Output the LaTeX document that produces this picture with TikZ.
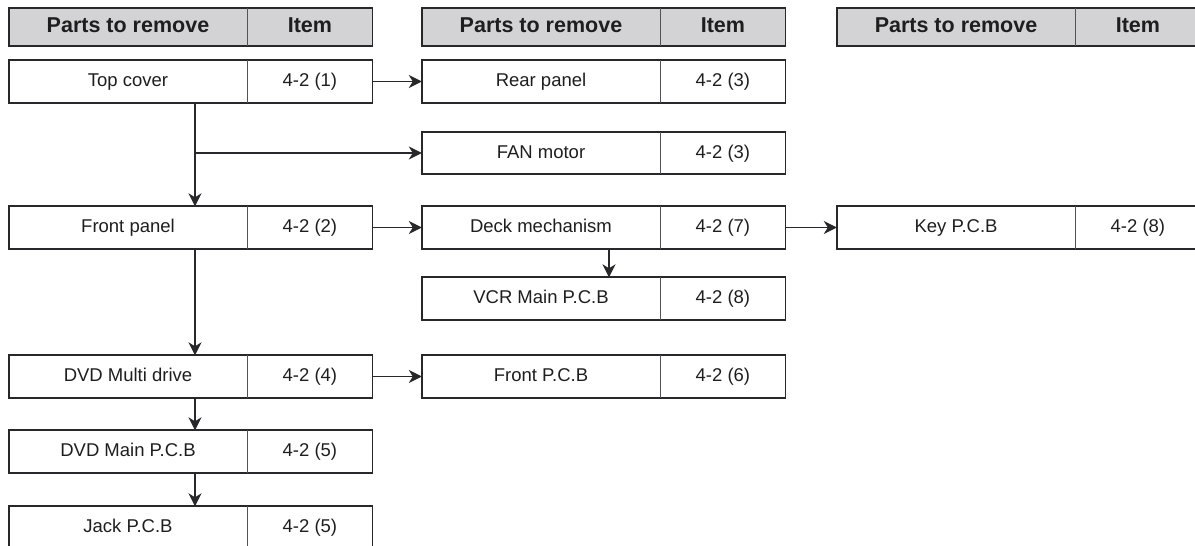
\documentclass[tikz,border=0pt]{standalone}
\usepackage{fontspec}
\setmainfont{Liberation Sans}
\usepackage{tikz}
\usetikzlibrary{positioning, calc, arrows.meta}
\definecolor{Linea}{RGB}{40,40,42}
\definecolor{Cabecera}{RGB}{211,211,214}
\definecolor{Texto}{RGB}{30,30,30}

\begin{document}
\begin{tikzpicture}[
  x=1pt, y=-1pt,
  %% casilla de la pieza
  part/.style={
    rectangle, inner sep=0pt,
    minimum width=238pt, minimum height=42pt,
    text height=13.5pt, text depth=3.5pt,
    font=\fontsize{18.5pt}{21pt}\selectfont, text=Texto
  },
  %% casilla del apartado
  item/.style={
    rectangle, inner sep=0pt,
    minimum width=125pt, minimum height=42pt,
    text height=13.5pt, text depth=3.5pt,
    font=\fontsize{18.5pt}{21pt}\selectfont, text=Texto
  },
  %% cabeceras en gris
  hpart/.style={
    part, minimum height=38pt, fill=Cabecera,
    text height=15.5pt, text depth=4pt,
    font=\fontsize{21.5pt}{24pt}\selectfont\bfseries
  },
  hitem/.style={
    item, minimum height=38pt, fill=Cabecera,
    text height=15.5pt, text depth=4pt,
    font=\fontsize{21.5pt}{24pt}\selectfont\bfseries
  },
  frame/.style={draw=Linea, line width=1.7pt},
  divider/.style={draw=Linea!80, line width=0.9pt},
  arr/.style={
    -{Stealth[length=13pt, width=13pt, inset=4pt]},
    line width=1.1pt, color=Linea
  }
]

\clip (0,0) rectangle (1195,546);
\useasboundingbox (0,0) rectangle (1195,546);

%% ── Cabeceras ──────────────────────────────────────────────────────────────
\node[hpart] (hdA) at (128, 27) {Parts to remove};
\node[hitem, right=0pt of hdA] (hdA-it) {Item};
\node[hpart] (hdB) at (541, 27) {Parts to remove};
\node[hitem, right=0pt of hdB] (hdB-it) {Item};
\node[hpart] (hdC) at (956, 27) {Parts to remove};
\node[hitem, right=0pt of hdC] (hdC-it) {Item};

%% ── Columna 1 ──────────────────────────────────────────────────────────────
\node[part] (top) at (128, 81.5) {Top cover};
\node[item, right=0pt of top] (top-it) {4-2 (1)};
\node[part] (front) at (128, 227.5) {Front panel};
\node[item, right=0pt of front] (front-it) {4-2 (2)};
\node[part] (dvd) at (128, 376.5) {DVD Multi drive};
\node[item, right=0pt of dvd] (dvd-it) {4-2 (4)};
\node[part] (dvdmain) at (128, 451.5) {DVD Main P.C.B};
\node[item, right=0pt of dvdmain] (dvdmain-it) {4-2 (5)};
\node[part] (jack) at (128, 527.5) {Jack P.C.B};
\node[item, right=0pt of jack] (jack-it) {4-2 (5)};

%% ── Columna 2 ──────────────────────────────────────────────────────────────
\node[part] (rear) at (541, 81.5) {Rear panel};
\node[item, right=0pt of rear] (rear-it) {4-2 (3)};
\node[part] (fan) at (541, 153) {FAN motor};
\node[item, right=0pt of fan] (fan-it) {4-2 (3)};
\node[part] (deck) at (541, 227.5) {Deck mechanism};
\node[item, right=0pt of deck] (deck-it) {4-2 (7)};
\node[part] (vcr) at (541, 298.5) {VCR Main P.C.B};
\node[item, right=0pt of vcr] (vcr-it) {4-2 (8)};
\node[part] (fpcb) at (541, 376.5) {Front P.C.B};
\node[item, right=0pt of fpcb] (fpcb-it) {4-2 (6)};

%% ── Columna 3 ──────────────────────────────────────────────────────────────
\node[part] (key) at (956, 227.5) {Key P.C.B};
\node[item, right=0pt of key] (key-it) {4-2 (8)};

%% marcos y separadores
\foreach \r in {hdA, hdB, hdC, top, front, dvd, dvdmain, jack,
                rear, fan, deck, vcr, fpcb, key} {
  \draw[frame] (\r.north west) rectangle (\r-it.south east);
  \draw[divider] (\r-it.north west) -- (\r-it.south west);
}

%% ────────────────── FLECHAS ────────────────────────────────────────────────
\coordinate (trunkA) at ([xshift=67pt]top.south);
\coordinate (trunkB) at ([xshift=67pt]front.south);
\coordinate (trunkC) at ([xshift=67pt]dvd.south);
\coordinate (trunkD) at ([xshift=67pt]dvdmain.south);
\coordinate (trunkE) at ([xshift=68pt]deck.south);

%% hacia la derecha
\draw[arr] (top-it.east) -- (rear.west);
\draw[arr] (trunkA |- fan.west) -- (fan.west);
\draw[arr] (front-it.east) -- (deck.west);
\draw[arr] (deck-it.east) -- (key.west);
\draw[arr] (dvd-it.east) -- (fpcb.west);

%% hacia abajo
\draw[arr] (trunkA) -- (trunkA |- front.north);
\draw[arr] (trunkB) -- (trunkB |- dvd.north);
\draw[arr] (trunkC) -- (trunkC |- dvdmain.north);
\draw[arr] (trunkD) -- (trunkD |- jack.north);
\draw[arr] (trunkE) -- (trunkE |- vcr.north);

\end{tikzpicture}
\end{document}
